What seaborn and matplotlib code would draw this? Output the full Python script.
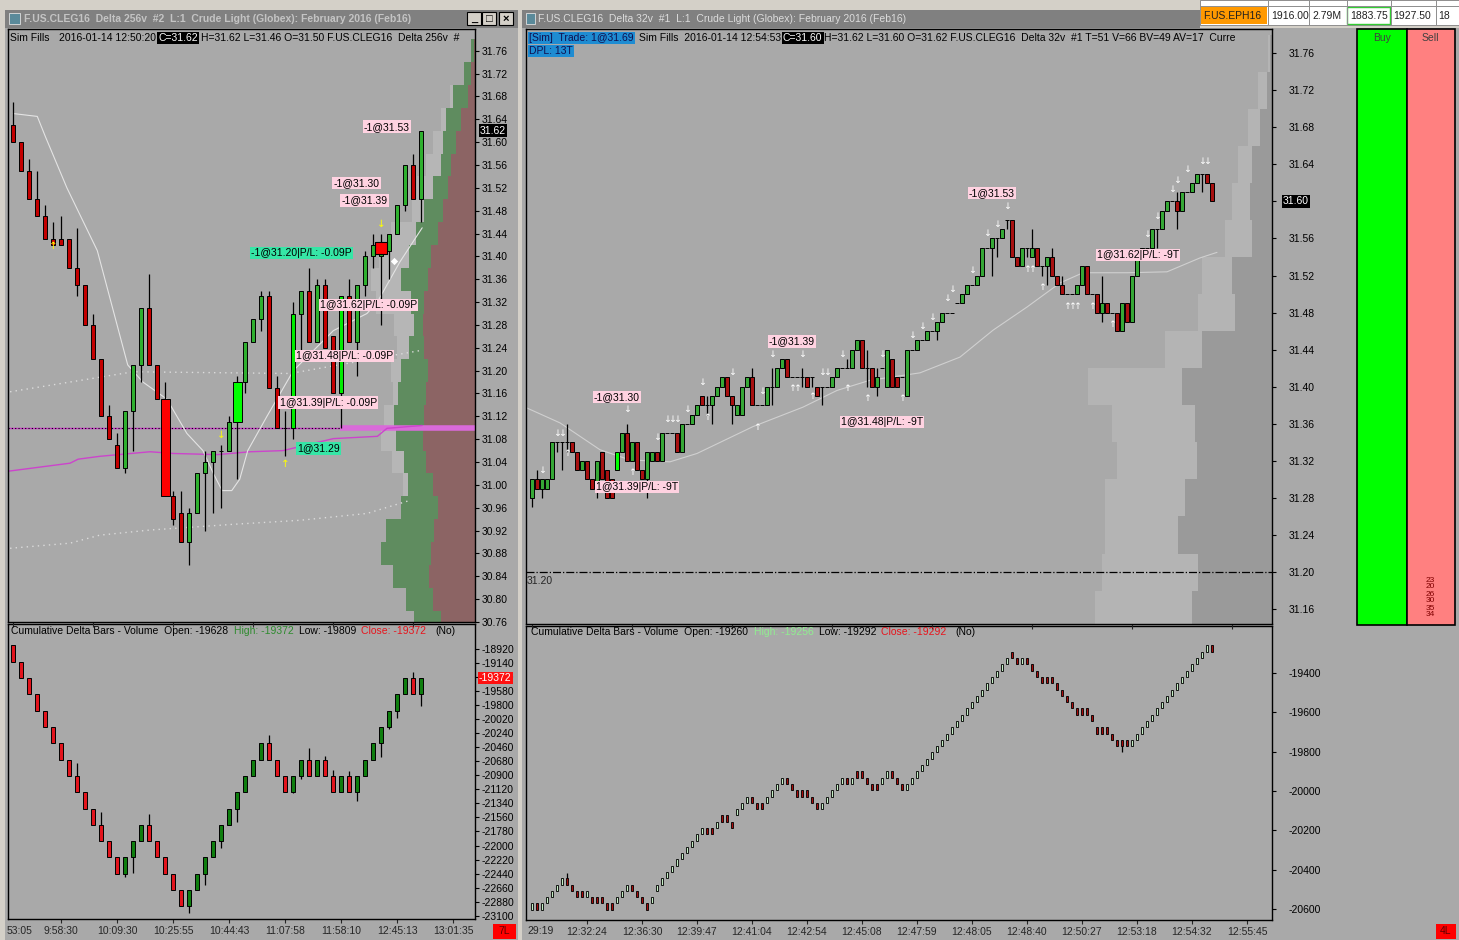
import numpy as np
import matplotlib
matplotlib.use("Agg")
import matplotlib.pyplot as plt
import seaborn as sns

W, H = 1459, 940
CHART_BG = "#a9a9a9"
FS = 7.5

# ---------------- left window : Delta 256v price bars ----------------
L_open = [31.63, 31.60, 31.55, 31.50, 31.47, 31.43, 31.43, 31.43, 31.38, 31.35,
          31.28, 31.22, 31.12, 31.07, 31.03, 31.13, 31.21, 31.31, 31.21, 31.15,
          30.98, 30.95, 30.90, 30.95, 31.02, 31.04, 31.06, 31.06, 31.11, 31.18,
          31.25, 31.29, 31.33, 31.17, 31.10, 31.10, 31.30, 31.34, 31.25, 31.35,
          31.26, 31.16, 31.33, 31.25, 31.35, 31.40, 31.40, 31.41, 31.44, 31.49,
          31.56, 31.50]
L_close = [31.60, 31.55, 31.50, 31.47, 31.43, 31.42, 31.42, 31.38, 31.35, 31.28,
           31.22, 31.12, 31.08, 31.03, 31.13, 31.21, 31.31, 31.21, 31.15, 30.98,
           30.94, 30.90, 30.95, 31.02, 31.04, 31.06, 31.06, 31.11, 31.18, 31.25,
           31.29, 31.33, 31.17, 31.10, 31.10, 31.30, 31.34, 31.25, 31.35, 31.24,
           31.16, 31.33, 31.25, 31.35, 31.40, 31.42, 31.42, 31.44, 31.49, 31.56,
           31.50, 31.62]
L_high = [31.67, 31.60, 31.57, 31.55, 31.49, 31.46, 31.47, 31.43, 31.45, 31.35,
          31.30, 31.22, 31.14, 31.09, 31.13, 31.21, 31.31, 31.37, 31.21, 31.18,
          30.99, 30.99, 30.96, 31.02, 31.06, 31.06, 31.07, 31.12, 31.19, 31.25,
          31.29, 31.34, 31.34, 31.19, 31.13, 31.32, 31.34, 31.38, 31.36, 31.36,
          31.26, 31.33, 31.36, 31.35, 31.41, 31.44, 31.44, 31.44, 31.49, 31.56,
          31.58, 31.62]
L_low = [31.60, 31.55, 31.50, 31.47, 31.43, 31.42, 31.42, 31.38, 31.33, 31.28,
         31.22, 31.12, 31.08, 31.03, 31.02, 31.06, 31.18, 31.21, 31.15, 30.98,
         30.93, 30.90, 30.86, 30.95, 30.92, 30.95, 30.96, 31.06, 31.01, 31.16,
         31.25, 31.27, 31.17, 31.10, 31.05, 31.08, 31.23, 31.25, 31.25, 31.24,
         31.16, 31.10, 31.25, 31.19, 31.33, 31.38, 31.28, 31.36, 31.44, 31.48,
         31.50, 31.46]
L_wide = {19: "#ff0000", 28: "#00ff00"}
L_lime = [35, 41]

# indicator lines (bar position, price)
L_ma_x = [0, 3, 4, 6.7, 10.5, 14.3, 16.2, 19.2, 21.7, 23.7, 25, 26.1, 27.3, 28.3,
          29.3, 31.7, 35, 40, 44.2, 45.5, 48.3, 51.1]
L_ma_y = [31.65, 31.645, 31.61, 31.52, 31.41, 31.21, 31.18, 31.15, 31.09, 31.06,
          31.02, 30.99, 30.99, 31.01, 31.06, 31.12, 31.20, 31.27, 31.30, 31.32,
          31.39, 31.45]
L_vwap_x = [-0.6, 7.1, 8.1, 10.8, 17.1, 20, 25.5, 29.6, 33.7, 35.8, 40, 45.5, 46.7, 51.1]
L_vwap_y = [31.024, 31.038, 31.045, 31.050, 31.058, 31.055, 31.053, 31.058, 31.060,
            31.067, 31.081, 31.085, 31.099, 31.104]
L_dot1_x = [-0.4, 15, 34.6, 50.8]
L_dot1_y = [31.163, 31.198, 31.195, 31.235]
L_dot2_x = [-0.4, 7.1, 10.8, 17.1, 27.5, 35.8, 44.2, 49.6]
L_dot2_y = [30.889, 30.898, 30.912, 30.921, 30.931, 30.938, 30.950, 30.973]
L_level = 31.10
L_level_from = 40.8

# volume profile (sell / buy / other volume per 4-tick level)
L_prof_px = [31.76, 31.72, 31.68, 31.64, 31.60, 31.56, 31.52, 31.48, 31.44, 31.40,
             31.36, 31.32, 31.28, 31.24, 31.20, 31.16, 31.12, 31.08, 31.04, 31.00,
             30.96, 30.92, 30.88, 30.84, 30.80, 30.76]
L_sell = [1, 4, 7, 14, 19, 24, 27, 32, 37, 44, 47, 51, 52, 51, 47, 49, 51, 52, 49, 42,
          37, 41, 44, 46, 42, 34]
L_buy = [3, 7, 15, 15, 13, 10, 15, 19, 22, 22, 27, 13, 9, 15, 27, 28, 30, 27, 22, 25,
         37, 48, 50, 36, 27, 27]
L_other = [0, 0, 3, 5, 10, 15, 16, 12, 25, 30, 30, 35, 20, 12, 10, 5, 10, 15, 12, 5,
           0, 0, 0, 0, 0, 0]

# trade labels (text, bar position, price, box colour)
L_labels = [("-1@31.53", 43.8, 31.627, "#ffd2e1"),
            ("-1@31.30", 40.0, 31.528, "#ffd2e1"),
            ("-1@31.39", 41.0, 31.498, "#ffd2e1"),
            ("-1@31.20|P/L: -0.09P", 29.7, 31.406, "#36e6a6"),
            ("1@31.62|P/L: -0.09P", 38.3, 31.315, "#ffd2e1"),
            ("1@31.48|P/L: -0.09P", 35.3, 31.226, "#ffd2e1"),
            ("1@31.39|P/L: -0.09P", 33.3, 31.144, "#ffd2e1"),
            ("1@31.29", 35.5, 31.064, "#36e6a6")]
L_arrows = [("↑", 5, 31.418), ("↓", 26, 31.087), ("↑", 34, 31.036), ("↓", 46, 31.456)]
L_fill = (46, 31.415)

L_time_pos = [6, 13, 20, 27, 34, 41, 48, 55]
L_time_lab = ["9:58:30", "10:09:30", "10:25:55", "10:44:43", "11:07:58", "11:58:10",
              "12:45:13", "13:01:35"]

# cumulative delta (256 per bar)
L_dstep = 256
L_dclose = [-19116, -19372, -19628, -19884, -20140, -20396, -20652, -20908, -21164,
            -21420, -21676, -21932, -22188, -22444, -22188, -21932, -21676, -21932,
            -22188, -22444, -22700, -22956, -22700, -22444, -22188, -21932, -21676,
            -21420, -21164, -20908, -20652, -20396, -20652, -20908, -21164, -20908,
            -20652, -20908, -20652, -20908, -21164, -20908, -21164, -20908, -20652,
            -20396, -20140, -19884, -19628, -19372, -19628, -19372]
L_ddir = "RRRRRRRRRRRRRR" + "GGGRRRRR" + "GGGGGGGGGG" + "RRRGGRGRRGRGGGGGGGRG"
L_dhi = {8: -20700, 11: -21480, 17: -21506, 18: -21955, 32: -20268, 37: -20474,
         39: -20597, 40: -20816, 42: -20840, 50: -19275}
L_dlo = {14: -22494, 15: -22426, 22: -23053, 24: -22620, 26: -22034, 28: -21627,
         35: -21177, 36: -20958, 43: -21302, 46: -20608, 47: -20169, 48: -20002,
         51: -19809}

# ---------------- right window : Delta 32v price bars ----------------
R_open = [31.28, 31.30, 31.29, 31.29, 31.30, 31.34, 31.34, 31.34, 31.34, 31.33,
          31.31, 31.32, 31.30, 31.29, 31.33, 31.31, 31.30, 31.31, 31.33, 31.35,
          31.32, 31.34, 31.31, 31.30, 31.32, 31.33, 31.32, 31.35, 31.35, 31.35,
          31.33, 31.36, 31.36, 31.37, 31.39, 31.38, 31.38, 31.39, 31.40, 31.41,
          31.39, 31.37, 31.37, 31.40, 31.41, 31.38, 31.38, 31.38, 31.40, 31.40,
          31.42, 31.43, 31.41, 31.41, 31.41, 31.41, 31.41, 31.40, 31.40, 31.40,
          31.40, 31.41, 31.42, 31.42, 31.42, 31.44, 31.45, 31.42, 31.42, 31.40,
          31.42, 31.40, 31.43, 31.41, 31.41, 31.39, 31.44, 31.44, 31.45, 31.45,
          31.46, 31.46, 31.47, 31.48, 31.48, 31.49, 31.49, 31.50, 31.51, 31.51,
          31.52, 31.55, 31.55, 31.56, 31.56, 31.58, 31.58, 31.54, 31.53, 31.55,
          31.54, 31.55, 31.53, 31.53, 31.54, 31.52, 31.51, 31.50, 31.50, 31.50,
          31.51, 31.53, 31.50, 31.50, 31.48, 31.49, 31.48, 31.48, 31.46, 31.49,
          31.47, 31.52, 31.54, 31.55, 31.55, 31.57, 31.57, 31.59, 31.60, 31.60,
          31.59, 31.61, 31.61, 31.62, 31.63, 31.63, 31.62]
R_close = [31.30, 31.29, 31.30, 31.30, 31.34, 31.34, 31.34, 31.34, 31.33, 31.31,
           31.32, 31.30, 31.29, 31.32, 31.30, 31.28, 31.28, 31.33, 31.35, 31.32,
           31.34, 31.31, 31.30, 31.33, 31.33, 31.32, 31.35, 31.35, 31.35, 31.33,
           31.36, 31.36, 31.37, 31.38, 31.38, 31.38, 31.39, 31.40, 31.41, 31.39,
           31.38, 31.38, 31.40, 31.41, 31.38, 31.38, 31.38, 31.40, 31.40, 31.42,
           31.43, 31.41, 31.41, 31.41, 31.41, 31.40, 31.41, 31.39, 31.40, 31.40,
           31.41, 31.42, 31.42, 31.42, 31.44, 31.45, 31.42, 31.42, 31.40, 31.41,
           31.42, 31.44, 31.40, 31.40, 31.41, 31.44, 31.44, 31.45, 31.45, 31.46,
           31.46, 31.47, 31.48, 31.48, 31.48, 31.49, 31.50, 31.51, 31.51, 31.52,
           31.55, 31.55, 31.56, 31.56, 31.57, 31.58, 31.54, 31.53, 31.55, 31.55,
           31.55, 31.53, 31.53, 31.54, 31.52, 31.51, 31.50, 31.50, 31.50, 31.51,
           31.53, 31.50, 31.50, 31.48, 31.49, 31.48, 31.48, 31.46, 31.49, 31.47,
           31.52, 31.54, 31.55, 31.55, 31.57, 31.57, 31.59, 31.60, 31.60, 31.59,
           31.61, 31.61, 31.62, 31.63, 31.63, 31.62, 31.60]
R_hi = {1: 31.31, 7: 31.36, 19: 31.36, 35: 31.39, 44: 31.42, 48: 31.42, 54: 31.42,
        63: 31.43, 67: 31.44, 69: 31.42, 100: 31.57, 104: 31.55, 106: 31.52,
        114: 31.52, 129: 31.61}
R_lo = {0: 31.27, 2: 31.28, 5: 31.33, 6: 31.31, 7: 31.33, 13: 31.28, 23: 31.28,
        35: 31.37, 36: 31.36, 40: 31.36, 48: 31.38, 54: 31.40, 56: 31.40, 58: 31.38,
        67: 31.40, 69: 31.39, 81: 31.45, 92: 31.52, 93: 31.54, 95: 31.57, 99: 31.54,
        102: 31.52, 103: 31.51, 114: 31.47, 125: 31.55, 129: 31.57, 134: 31.61}
R_lime = [17]

R_ma_x = [-1, 5.6, 13.6, 19.6, 27.6, 33, 44.2, 54.2, 61, 67.6, 77.6, 85.6, 92.2, 99,
          105.6, 110.2, 119, 127, 133.6, 137]
R_ma_y = [31.377, 31.361, 31.332, 31.321, 31.319, 31.328, 31.357, 31.378, 31.396,
          31.407, 31.415, 31.432, 31.461, 31.486, 31.512, 31.523, 31.523, 31.524,
          31.539, 31.545]
R_level = 31.20

R_prof_px = [31.76, 31.72, 31.68, 31.64, 31.60, 31.56, 31.52, 31.48, 31.44, 31.40,
             31.36, 31.32, 31.28, 31.24, 31.20, 31.16]
R_dark = [2, 5, 12, 20, 22, 20, 40, 37, 70, 90, 77, 75, 87, 94, 74, 80]
R_light = [2, 9, 12, 14, 18, 27, 30, 37, 37, 94, 83, 80, 80, 73, 96, 97]

R_labels = [("-1@31.30", 12.4, 31.389), ("1@31.39|P/L: -9T", 12.8, 31.292),
            ("-1@31.39", 47.4, 31.449), ("1@31.48|P/L: -9T", 61.8, 31.362),
            ("-1@31.53", 87.4, 31.609), ("1@31.62|P/L: -9T", 113.0, 31.542)]
R_dn_idx = [2, 5, 6, 19, 25, 27, 28, 29, 31, 34, 40, 46, 48, 54, 58, 59, 62, 70, 76,
            78, 80, 83, 84, 88, 91, 93, 95, 123, 125, 128, 129, 131, 134, 135]
R_dn_px = [31.31, 31.35, 31.35, 31.375, 31.345, 31.365, 31.365, 31.365, 31.375,
           31.405, 31.415, 31.395, 31.435, 31.435, 31.415, 31.415, 31.435, 31.435,
           31.455, 31.465, 31.475, 31.495, 31.505, 31.525, 31.565, 31.575, 31.594,
           31.564, 31.584, 31.613, 31.623, 31.634, 31.643, 31.643]
R_up_idx = [7, 20, 35, 45, 52, 53, 56, 63, 67, 74, 99, 100, 102, 107, 108, 109, 112, 116]
R_up_px = [31.328, 31.307, 31.367, 31.356, 31.398, 31.398, 31.389, 31.398, 31.387,
           31.387, 31.527, 31.527, 31.507, 31.487, 31.487, 31.487, 31.487, 31.467]

R_time_pos = [11, 22, 33, 44, 55, 66, 77, 88, 99, 110, 121, 132, 143]
R_time_lab = ["12:32:24", "12:36:30", "12:39:47", "12:41:04", "12:42:54", "12:45:08",
              "12:47:59", "12:48:05", "12:48:40", "12:50:27", "12:53:18", "12:54:32",
              "12:55:45"]

# cumulative delta (32 per bar)
R_dstep = 32
R_dclose = [-19292 - 32 * n for n in
            [40, 41, 40, 39, 38, 37, 36, 37, 38, 39, 39, 38, 40, 40, 40, 41, 41, 39, 38, 37,
             38, 39, 40, 41, 39, 37, 36, 35, 34, 33, 32, 31, 30, 29, 28, 29, 29, 27, 27, 27,
             28, 25, 24, 23, 24, 25, 25, 23, 22, 21, 20, 21, 22, 23, 23, 23, 24, 25, 24, 23,
             22, 21, 20, 21, 20, 20, 20, 21, 22, 22, 20, 19, 20, 21, 22, 21, 20, 19, 18, 17,
             16, 15, 14, 13, 12, 11, 10, 9, 8, 7, 6, 5, 4, 3, 2, 1, 1, 2, 1, 2,
             3, 4, 5, 5, 5, 6, 7, 8, 9, 10, 10, 10, 11, 13, 13, 13, 14, 15, 15, 15,
             14, 13, 12, 11, 10, 9, 8, 7, 6, 5, 4, 3, 2, 1, 0, -1, 0]]
R_ddir = ("GRGGGGGRRRRGRRRRRGGGRRRRGGGGGGGGGGGRRGRRRGGGRRRGGGGRRRRRRRGGGGGRGRRRRRGGRRR"
          "GGGGGGGGGGGGGGGGGGGGGRRGRRRRRRRRRRRRRRRRRRRRRGGGGGGGGGGGGGGGGR")
R_dhi = {7: -20419, 96: -19292}
R_dlo = {118: -19804}

# ---------------------------------------------------------------------
sns.set_style("white")
plt.rcParams["font.family"] = ["Liberation Sans", "DejaVu Sans"]
plt.rcParams["axes.unicode_minus"] = False

fig = plt.figure(figsize=(W / 100, H / 100), dpi=100)
fig.patch.set_facecolor("#d4d0c8")
renderer = fig.canvas.get_renderer()


def box(x0, y0, x1, y1):
    return [x0 / W, 1 - y1 / H, (x1 - x0) / W, (y1 - y0) / H]


def fill(x0, y0, x1, y1, color, ec="none", lw=0.0, z=-5):
    fig.patches.append(plt.Rectangle((x0 / W, 1 - y1 / H), (x1 - x0) / W, (y1 - y0) / H,
                                     transform=fig.transFigure, facecolor=color,
                                     edgecolor=ec, linewidth=lw, zorder=z))


def chain(x, y, parts, size=FS, weight="normal"):
    for s, col, bg, gap in parts:
        t = fig.text(x / W, 1 - y / H, s, color=col, fontsize=size, ha="left",
                     va="center", weight=weight, zorder=8)
        if bg:
            t.set_bbox(dict(facecolor=bg, edgecolor="none", pad=0.9))
        x += t.get_window_extent(renderer).width + gap


def candles(ax, o, c, h, l, width, up, dn, wide=None, lime=None, lime_col="#00ee00"):
    o = np.asarray(o, float)
    c = np.asarray(c, float)
    x = np.arange(len(o))
    cols = [up if cc > oo else dn for oo, cc in zip(o, c)]
    widths = [width] * len(o)
    for k in (lime or []):
        cols[k] = lime_col
    for k, col in (wide or {}).items():
        cols[k] = col
        widths[k] = width * 2.1
    ax.vlines(x, l, h, color="black", lw=0.9, zorder=3)
    ax.bar(x, c - o, bottom=o, width=widths, color=cols, edgecolor="black",
           linewidth=0.7, zorder=4)


def delta_bars(ax, close, dirs, step, hi, lo, width, up, dn, lw=0.7):
    close = np.asarray(close, float)
    upm = np.array([d == "G" for d in dirs])
    opn = np.where(upm, close - step, close + step)
    h = np.maximum(opn, close)
    l = np.minimum(opn, close)
    for k, v in hi.items():
        h[k] = v
    for k, v in lo.items():
        l[k] = v
    x = np.arange(len(close))
    ax.vlines(x, l, h, color="black", lw=0.9, zorder=3)
    ax.bar(x, close - opn, bottom=opn, width=width,
           color=[up if u else dn for u in upm], edgecolor="black", linewidth=lw, zorder=4)


def style_axes(ax, xlim, ylim):
    ax.set_facecolor(CHART_BG)
    ax.set_xlim(*xlim)
    ax.set_ylim(*ylim)
    for s in ax.spines.values():
        s.set_color("black")
        s.set_linewidth(1.0)
    ax.yaxis.tick_right()
    ax.tick_params(axis="y", direction="out", length=3, width=0.8, labelsize=FS,
                   colors="black", right=True, left=False)
    ax.tick_params(axis="x", bottom=False, labelbottom=False)


def profile(ax, levels, layers, span, step):
    pax = ax.twiny()
    pax.set_xlim(span, 0)
    pax.set_facecolor(CHART_BG)
    pax.set_xticks([])
    for s in pax.spines.values():
        s.set_visible(False)
    left = np.zeros(len(levels))
    for vals, col in layers:
        pax.barh(levels, vals, left=left, height=step, color=col, linewidth=0)
        left = left + np.asarray(vals)
    ax.set_zorder(pax.get_zorder() + 1)
    ax.patch.set_visible(False)
    return pax


# ---------------- frame / window chrome ----------------
fill(5, 28, 518, 940, CHART_BG)
fill(522, 28, 1459, 940, CHART_BG)
fill(5, 10, 518, 28, "#808080")
fill(522, 10, 1200, 28, "#808080")
fill(9, 13, 20, 24, "#5a8a9a", ec="#e0e0e0", lw=0.6, z=-4)
fill(526, 13, 535, 24, "#5a8a9a", ec="#e0e0e0", lw=0.6, z=-4)
for bx, sym in [(467, "_"), (482, "□"), (499, "×")]:
    fill(bx, 12, bx + 14, 25, "#d4d0c8", ec="black", lw=0.8, z=-4)
    fig.text((bx + 7) / W, 1 - 18.5 / H, sym, ha="center", va="center", fontsize=8,
             color="black", weight="bold", zorder=8)
chain(24, 19, [("F.US.CLEG16  Delta 256v  #2  L:1  Crude Light (Globex): February 2016 (Feb16)",
                "#c4c4c4", None, 0)], weight="bold")
chain(538, 19, [("F.US.CLEG16  Delta 32v  #1  L:1  Crude Light (Globex): February 2016 (Feb16)",
                 "#dcdcdc", None, 0)])

# quote board, top right
fill(1200, 0, 1459, 25, "white", ec="#808080", lw=0.6, z=-4)
fill(1201, 7, 1267, 24, "#ff9900", z=-3)
fill(1347, 7, 1390, 24, "white", ec="#33cc33", lw=1.0, z=-3)
for vx in [1268, 1309, 1347, 1391, 1436]:
    fill(vx, 0, vx + 1, 25, "#909090", z=-3)
fill(1200, 6, 1459, 7, "#909090", z=-3)
for tx, s in [(1203, "F.US.EPH16"), (1271, "1916.00"), (1312, "2.79M"), (1350, "1883.75"),
              (1393, "1927.50"), (1438, "18")]:
    fig.text(tx / W, 1 - 16 / H, s, fontsize=FS, ha="left", va="center", color="#202020",
             zorder=8)

# Buy / Sell columns
fill(1357, 29, 1407, 625, "#00ff00", ec="black", lw=1.2, z=-4)
fill(1407, 29, 1455, 625, "#ff8080", ec="black", lw=1.2, z=-4)
fig.text(1382 / W, 1 - 38 / H, "Buy", fontsize=FS, ha="center", va="center", color="#404040")
fig.text(1430 / W, 1 - 38 / H, "Sell", fontsize=FS, ha="center", va="center", color="#404040")
for yy, s in [(580, "23"), (587, "20"), (594, "26"), (601, "30"), (608, "35"), (615, "34")]:
    fig.text(1430 / W, 1 - yy / H, s, fontsize=6.0, ha="center", va="center", color="#800000",
             linespacing=1.0)

# lock boxes
fill(493, 924, 516, 939, "#ff0000", z=-3)
fill(1436, 924, 1456, 939, "#ff0000", z=-3)
fig.text(504.5 / W, 1 - 931 / H, "7L", fontsize=FS, ha="center", va="center", color="#600000",
         zorder=8)
fig.text(1446 / W, 1 - 931 / H, "4L", fontsize=FS, ha="center", va="center", color="#600000",
         zorder=8)

# ---------------- left top : price ----------------
axLT = fig.add_axes(box(8, 29, 475, 622))
style_axes(axLT, (-0.66, 57.7), (30.763, 31.798))
profile(axLT, L_prof_px, [(L_sell, "#8c6464"), (L_buy, "#5f8c5f"), (L_other, "#b6b6b6")], 467, 0.04)
axLT.set_yticks(L_prof_px)
axLT.set_yticklabels([f"{v:.2f}" for v in L_prof_px])
axLT.tick_params(axis="y", pad=2)

axLT.axhline(L_level, color="#cc33cc", lw=1.0, zorder=2)
axLT.axhline(L_level, color="black", lw=0.8, ls=(0, (1, 2)), zorder=2)
axLT.plot([L_level_from, 57.7], [L_level, L_level], color="#d96ad9", lw=4, zorder=2,
          solid_capstyle="butt")
sns.lineplot(x=L_vwap_x, y=L_vwap_y, ax=axLT, color="#cc44cc", lw=1.0, estimator=None, zorder=2)
sns.lineplot(x=L_ma_x, y=L_ma_y, ax=axLT, color="#e4e4e4", lw=0.8, estimator=None, zorder=2)
sns.lineplot(x=L_dot1_x, y=L_dot1_y, ax=axLT, color="#dcdcdc", lw=1.0, ls=(0, (1, 3)),
             estimator=None, zorder=2)
sns.lineplot(x=L_dot2_x, y=L_dot2_y, ax=axLT, color="#dcdcdc", lw=1.0, ls=(0, (1, 3)),
             estimator=None, zorder=2)

candles(axLT, L_open, L_close, L_high, L_low, 0.5, "#2fb02f", "#c40000",
        wide=L_wide, lime=L_lime)
axLT.scatter([L_fill[0]], [L_fill[1]], marker="s", s=70, color="#ff0000",
             edgecolor="black", linewidth=0.8, zorder=6)
axLT.scatter([L_fill[0] + 1.6], [L_fill[1] - 0.023], marker="D", s=14, color="white",
             linewidth=0, zorder=6)
for s, xi, py in L_arrows:
    axLT.text(xi, py, s, color="#ffff00", fontsize=7.5, ha="center", va="center", zorder=7,
              family="DejaVu Sans")
for s, xi, py, col in L_labels:
    axLT.text(xi, py, s, fontsize=FS, ha="left", va="center", color="black", zorder=8,
              bbox=dict(boxstyle="square,pad=0.12", fc=col, ec="none"))
axLT.annotate("31.62", xy=(1, 31.62), xycoords=("axes fraction", "data"), xytext=(5, 0),
              textcoords="offset pixels", ha="left", va="center", color="white", fontsize=FS,
              bbox=dict(boxstyle="square,pad=0.12", fc="black", ec="none"),
              annotation_clip=False, zorder=10)

# ---------------- left bottom : cumulative delta ----------------
axLB = fig.add_axes(box(8, 624, 475, 919))
style_axes(axLB, (-0.66, 57.7), (-23152, -18528))
delta_bars(axLB, L_dclose, L_ddir, L_dstep, L_dhi, L_dlo, 0.5, "#0e7e0e", "#e2141c")
dt = [-18920 - 220 * k for k in range(20)]
axLB.set_yticks(dt)
axLB.set_yticklabels([str(v) for v in dt])
axLB.tick_params(axis="y", pad=2)
axLB.set_xticks(L_time_pos)
axLB.set_xticklabels(L_time_lab)
axLB.tick_params(axis="x", bottom=True, labelbottom=True, length=3, pad=2, labelsize=FS)
axLB.annotate(str(L_dclose[-1]), xy=(1, L_dclose[-1]), xycoords=("axes fraction", "data"),
              xytext=(4, 0), textcoords="offset pixels", ha="left", va="center",
              color="white", fontsize=FS,
              bbox=dict(boxstyle="square,pad=0.12", fc="#ff1010", ec="none"),
              annotation_clip=False, zorder=10)
fig.text(7 / W, 1 - 931 / H, "53:05", fontsize=FS, ha="left", va="center")

# ---------------- right top : price ----------------
axRT = fig.add_axes(box(526, 29, 1272, 624))
style_axes(axRT, (-1.2, 148), (31.144, 31.786))
profile(axRT, R_prof_px, [(R_dark, "#9a9a9a"), (R_light, "#b4b4b4")], 746, 0.04)
axRT.set_yticks(R_prof_px)
# the last price box covers its own tick label
axRT.set_yticklabels(["" if abs(v - R_close[-1]) < 1e-9 else f"{v:.2f}" for v in R_prof_px])
axRT.tick_params(axis="y", pad=9)
axRT.axhline(R_level, color="black", lw=0.9, ls="-.", zorder=2)
axRT.text(-1.0, R_level - 0.004, f"{R_level:.2f}", fontsize=FS, ha="left", va="top")
sns.lineplot(x=R_ma_x, y=R_ma_y, ax=axRT, color="#d0d0d0", lw=0.8, estimator=None, zorder=2)

r_h = np.maximum(R_open, R_close)
r_l = np.minimum(R_open, R_close)
for k, v in R_hi.items():
    r_h[k] = v
for k, v in R_lo.items():
    r_l[k] = v
candles(axRT, R_open, R_close, r_h, r_l, 0.62, "#36a836", "#a81010", lime=R_lime,
        lime_col="#00ff00")
for xi, py in zip(R_dn_idx, R_dn_px):
    axRT.text(xi, py, "↓", color="white", fontsize=6.8, ha="center", va="center", zorder=7,
              family="DejaVu Sans")
for xi, py in zip(R_up_idx, R_up_px):
    axRT.text(xi, py, "↑", color="white", fontsize=6.8, ha="center", va="center", zorder=7,
              family="DejaVu Sans")
for s, xi, py in R_labels:
    axRT.text(xi, py, s, fontsize=FS, ha="left", va="center", color="black", zorder=8,
              bbox=dict(boxstyle="square,pad=0.12", fc="#ffd2e1", ec="none"))
axRT.annotate(f"{R_close[-1]:.2f}", xy=(1, R_close[-1]), xycoords=("axes fraction", "data"),
              xytext=(11, 0), textcoords="offset pixels", ha="left", va="center",
              color="white", fontsize=FS,
              bbox=dict(boxstyle="square,pad=0.12", fc="black", ec="none"),
              annotation_clip=False, zorder=10)

# ---------------- right bottom : cumulative delta ----------------
axRB = fig.add_axes(box(526, 626, 1272, 920))
style_axes(axRB, (-1.2, 148), (-20656, -19161))
delta_bars(axRB, R_dclose, R_ddir, R_dstep, R_dhi, R_dlo, 0.55, "#c4ecc4", "#a80c0c", lw=0.6)
rt = [-19400 - 200 * k for k in range(7)]
axRB.set_yticks(rt)
axRB.set_yticklabels([str(v) for v in rt])
axRB.tick_params(axis="y", pad=9)
axRB.set_xticks(R_time_pos)
axRB.set_xticklabels(R_time_lab)
axRB.tick_params(axis="x", bottom=True, labelbottom=True, length=3, pad=2, labelsize=FS)
fig.text(527 / W, 1 - 931 / H, "29:19", fontsize=FS, ha="left", va="center")

# ---------------- header lines ----------------
chain(10, 38, [("Sim Fills", "black", None, 9), ("2016-01-14 12:50:20", "black", None, 3),
               ("C=31.62", "white", "black", 3),
               ("H=31.62 L=31.46 O=31.50 F.US.CLEG16  Delta 256v  #", "black", None, 0)])
chain(529, 38, [("[Sim]  Trade: 1@31.69", "#101050", "#1e8cd2", 5),
                ("Sim Fills  2016-01-14 12:54:53", "black", None, 2),
                ("C=31.60", "white", "black", 2),
                ("H=31.62 L=31.60 O=31.62 F.US.CLEG16  Delta 32v  #1 T=51 V=66 BV=49 AV=17  Curre",
                 "black", None, 0)])
chain(529, 51, [("DPL: 13T", "#101050", "#1e8cd2", 0)])
chain(11, 631, [("Cumulative Delta Bars - Volume  Open: -19628", "black", None, 6),
                ("High: -19372", "#2e8b2e", None, 5), ("Low: -19809", "black", None, 5),
                ("Close: -19372", "#e8141c", None, 9), ("(No)", "black", None, 0)])
chain(531, 632, [("Cumulative Delta Bars - Volume  Open: -19260", "black", None, 6),
                 ("High: -19256", "#90ee90", None, 5), ("Low: -19292", "black", None, 5),
                 ("Close: -19292", "#e8141c", None, 9), ("(No)", "black", None, 0)])

fig.savefig("out.png", dpi=100, facecolor=fig.get_facecolor())
